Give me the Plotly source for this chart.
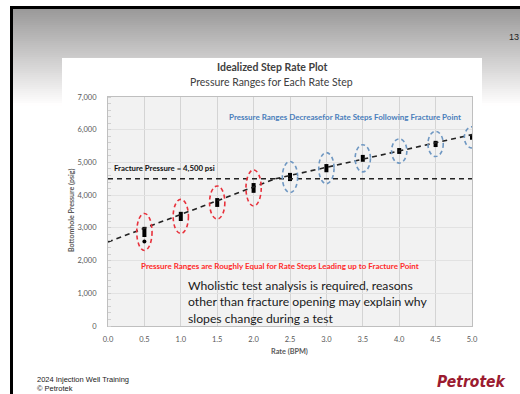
import plotly.graph_objects as go

# ---------------- data ----------------
rates = [0.5, 1.0, 1.5, 2.0, 2.5, 3.0, 3.5, 4.0, 4.5, 5.0]
p_min = [2720, 3210, 3640, 4070, 4430, 4700, 5020, 5260, 5470, 5690]
p_max = [3030, 3490, 3910, 4370, 4680, 4950, 5230, 5440, 5660, 5840]
initial_rate = [0.5]
initial_p = [2580]
fracture_pressure = 4500
trend1_rate = [0.0, 2.3]
trend1_p = [2570, 4500]
trend2_rate = [2.3, 5.0]
trend2_p = [4500, 5850]
x_ticks = [0.0, 0.5, 1.0, 1.5, 2.0, 2.5, 3.0, 3.5, 4.0, 4.5, 5.0]
y_ticks = [0, 1000, 2000, 3000, 4000, 5000, 6000, 7000]

W, H = 520, 394
L, R, T, B = 108, 472, 97, 326


def px(x):
    return (x - L) / (R - L)


def py(y):
    return (B - y) / (B - T)


CH = "Lato, 'Open Sans', sans-serif"
GRAY = "#595959"

fig = go.Figure()

# step bars
bx, by = [], []
for r, lo, hi in zip(rates, p_min, p_max):
    bx += [r, r, None]
    by += [lo, hi, None]
fig.add_trace(go.Scatter(x=bx, y=by, mode="lines", line=dict(color="black", width=4),
                         hoverinfo="skip", showlegend=False))
fig.add_trace(go.Scatter(x=initial_rate, y=initial_p, mode="markers",
                         marker=dict(color="black", size=4), showlegend=False))

dash = "5px,4px"
fig.add_trace(go.Scatter(x=[x_ticks[0], x_ticks[-1]], y=[fracture_pressure] * 2, mode="lines",
                         line=dict(color="#222", width=1.6, dash=dash), showlegend=False))
fig.add_trace(go.Scatter(x=trend1_rate, y=trend1_p, mode="lines",
                         line=dict(color="#222", width=1.6, dash=dash), showlegend=False))
fig.add_trace(go.Scatter(x=trend2_rate, y=trend2_p, mode="lines",
                         line=dict(color="#222", width=1.6, dash=dash), showlegend=False))

shapes = []
# page gradient header
n = 48
top, bot = 9, 105
for i in range(n):
    y0 = top + (bot - top) * i / n
    y1 = top + (bot - top) * (i + 1) / n + 0.6
    t = i / (n - 1)
    c = int(0x9b + (0xff - 0x9b) * t)
    shapes.append(dict(type="rect", xref="paper", yref="paper", layer="below",
                       x0=px(10), x1=px(W + 5), y0=py(y1), y1=py(y0),
                       fillcolor=f"rgb({c},{c - 1},{c - 1})", line=dict(width=0)))
# black slide border
shapes.append(dict(type="rect", xref="paper", yref="paper", layer="below",
                   x0=px(10), x1=px(W + 5), y0=py(9), y1=py(6), fillcolor="black", line=dict(width=0)))
shapes.append(dict(type="rect", xref="paper", yref="paper", layer="below",
                   x0=px(10), x1=px(13), y0=py(H + 5), y1=py(6), fillcolor="black", line=dict(width=0)))
# white chart box
shapes.append(dict(type="rect", xref="paper", yref="paper", layer="below",
                   x0=px(62), x1=px(482), y0=py(362), y1=py(58), fillcolor="white", line=dict(width=0)))
# plot area fill
shapes.append(dict(type="rect", xref="x domain", yref="y domain", layer="below",
                   x0=0, x1=1, y0=0, y1=1, fillcolor="#f2f2f2", line=dict(width=0)))

# ellipses around steps
for r, lo, hi in zip(rates, p_min, p_max):
    mid = (lo + hi) / 2
    h = 3 * (hi - lo) + 200
    col = "#e8323c" if mid < fracture_pressure else "#6e97c2"
    shapes.append(dict(type="circle", xref="x", yref="y", x0=r - 0.105, x1=r + 0.105,
                       y0=mid - h / 2, y1=mid + h / 2,
                       line=dict(color=col, width=1.6, dash="4px,3px")))

annotations = [
    dict(x=px(272), y=py(67), text="<b>Idealized Step Rate Plot</b>", font=dict(size=10.5, color="#404040", family=CH)),
    dict(x=px(271), y=py(82), text="Pressure Ranges for Each Rate Step", font=dict(size=10.5, color="#404040", family=CH)),
    dict(x=px(345), y=py(117), text="<b>Pressure Ranges Decreasefor Rate Steps Following Fracture Point</b>",
         font=dict(size=8.0, color="#4a7ebb", family=CH)),
    dict(x=px(112), y=py(168), xanchor="left", text="<b>Fracture Pressure = 4,500 psi</b>",
         font=dict(size=7.8, color="#111", family=CH)),
    dict(x=px(280), y=py(266), text="<b>Pressure Ranges are Roughly Equal for Rate Steps Leading up to Fracture Point</b>",
         font=dict(size=8.0, color="#ff2a2a", family=CH)),
    dict(x=px(186), y=py(285), xanchor="left", text="Wholistic test analysis is required, reasons",
         font=dict(size=12.2, color="#1a1a1a", family=CH)),
    dict(x=px(186), y=py(301.5), xanchor="left", text="other than fracture opening may explain why",
         font=dict(size=12.2, color="#1a1a1a", family=CH)),
    dict(x=px(186), y=py(318), xanchor="left", text="slopes change during a test",
         font=dict(size=12.2, color="#1a1a1a", family=CH)),
    dict(x=px(35), y=py(379), xanchor="left", text="2024 Injection Well Training",
         font=dict(size=7.5, color="#222", family="Liberation Sans, Arial")),
    dict(x=px(35), y=py(388), xanchor="left", text="© Petrotek",
         font=dict(size=7.5, color="#222", family="Liberation Sans, Arial")),
    dict(x=px(471), y=py(382), text="<b><i>Petrotek</i></b>",
         font=dict(size=15.5, color="#9b1b30", family="'Liberation Sans Narrow', 'DejaVu Sans Condensed', sans-serif")),
    dict(x=px(507), y=py(37), xanchor="left", text="13",
         font=dict(size=9, color="#222", family="Liberation Sans, Arial")),
    dict(x=px(71), y=py(211), text="<b>Bottomhole Pressure (psig)</b>", textangle=-90,
         font=dict(size=7.0, color=GRAY, family=CH)),
    dict(x=px(289), y=py(351), text="<b>Rate (BPM)</b>", font=dict(size=7.3, color=GRAY, family=CH)),
]
for a in annotations:
    a.update(xref="paper", yref="paper", showarrow=False, yanchor="middle")
    a.setdefault("xanchor", "center")

fig.update_layout(
    width=W, height=H, margin=dict(l=L, r=W - R, t=T, b=H - B),
    paper_bgcolor="white", plot_bgcolor="#f2f2f2",
    shapes=shapes, annotations=annotations, showlegend=False,
    font=dict(family=CH, color=GRAY),
)
fig.update_xaxes(range=[0, 5], tickvals=x_ticks, tickformat=".1f", showgrid=True,
                 gridcolor="#d4d4d4", gridwidth=1, zeroline=False, showline=True,
                 linecolor="#bfbfbf", mirror=True, ticks="", tickfont=dict(size=7.5, color=GRAY, family=CH),
                 ticklabelstandoff=6)
fig.update_yaxes(range=[0, 7000], tickvals=y_ticks, tickformat=",", showgrid=True,
                 gridcolor="#e2e2e2", gridwidth=1, zeroline=False, showline=True,
                 linecolor="#bfbfbf", mirror=True, ticks="", tickfont=dict(size=7.5, color=GRAY, family=CH),
                 ticklabelstandoff=9,
                 minor=dict(dtick=200, ticks="inside", ticklen=3, tickcolor="#d0d0d0", showgrid=False))

fig.write_html("out.html")
